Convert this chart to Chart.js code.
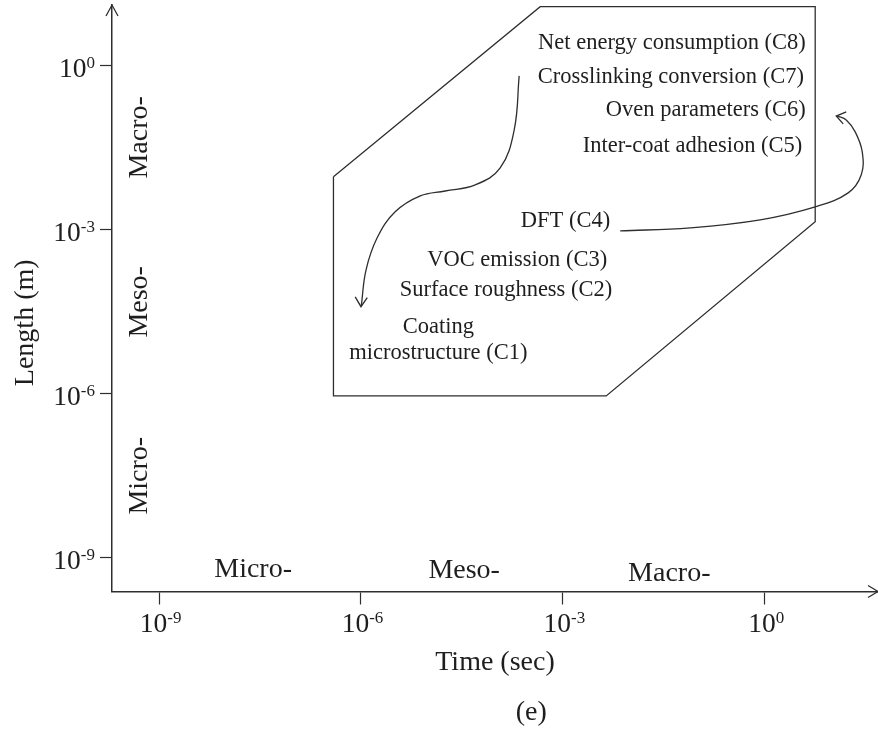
<!DOCTYPE html>
<html>
<head>
<meta charset="utf-8">
<script src="https://cdn.jsdelivr.net/npm/chart.js@4.4.1/dist/chart.umd.min.js"></script>
<style>
  html, body { margin: 0; padding: 0; background: #fff; }
</style>
</head>
<body>
<canvas id="scaleChart" width="878" height="732"></canvas>
<script>
// Axis ticks (powers of ten, both axes)
const TICK_EXPONENTS = [-9, -6, -3, 0];

// Scale regions along both axes
const REGIONS = ['Micro-', 'Meso-', 'Macro-'];

// Criteria written inside the outline
const CRITERIA = [
  'Net energy consumption (C8)',
  'Crosslinking conversion (C7)',
  'Oven parameters (C6)',
  'Inter-coat adhesion (C5)',
  'DFT (C4)',
  'VOC emission (C3)',
  'Surface roughness (C2)',
  ['Coating', 'microstructure (C1)']
];

// Outline of the time / length window (sec, m)
const BOX_TIME   = [3.9e-7, 4.6e-4, 5.6, 5.6, 4.4e-3, 3.9e-7, 3.9e-7];
const BOX_LENGTH = [9.3e-3, 12, 12, 1.4e-3, 9.1e-7, 9.1e-7, 9.3e-3];

// Link from C7 down to C1 (curve + arrow head)
const DOWN_TIME   = [2.24e-4, 1.89e-4, 1.17e-4, 4.98e-5, 1.78e-5, 7.6e-6, 3.22e-6, 1.74e-6, 1.19e-6, 1.01e-6];
const DOWN_LENGTH = [0.65, 0.067, 0.0135, 6.6e-3, 5.1e-3, 4.15e-3, 2.12e-3, 7.1e-4, 1.84e-4, 4.0e-5];
const DOWN_HEAD_TIME   = [8.2e-7, 1.0e-6, 1.24e-6];
const DOWN_HEAD_LENGTH = [5.9e-5, 3.9e-5, 5.7e-5];

// Link from C4 round to C6 (curve + arrow head)
const UP_TIME   = [7.1e-3, 0.078, 0.855, 5.6, 17.3, 27, 28, 22, 16.2, 11.9];
const UP_LENGTH = [9.5e-4, 1.08e-3, 1.51e-3, 2.61e-3, 4.71e-3, 0.01, 0.0265, 0.0615, 0.102, 0.12];
const UP_HEAD_TIME   = [16.2, 11.5, 14.6];
const UP_HEAD_LENGTH = [0.143, 0.12, 0.086];

// Axis limits
const X_MIN = 2.0e-10, X_MAX = 48;
const Y_MIN = 2.4e-10, Y_MAX = 12.9;

// Styling
const FONT = '"Liberation Serif", "Times New Roman", serif';
const TEXT_COLOR = '#1e1e1e';
const LINE_COLOR = '#2e2e2e';

// Where the texts sit, as [log10 time, log10 length]
const CRITERIA_AT = [
  { at: [0.608, 0.416], align: 'right' },
  { at: [0.581, -0.203], align: 'right' },
  { at: [0.608, -0.810], align: 'right' },
  { at: [0.556, -1.468], align: 'right' },
  { at: [-2.297, -2.839], align: 'right' },
  { at: [-2.342, -3.552], align: 'right' },
  { at: [-2.267, -4.100], align: 'right' },
  { at: [-4.85, -4.777], align: 'center' }
];
const REGION_X_AT = [[-7.602, -9.348], [-4.467, -9.366], [-1.420, -9.421]];
const REGION_Y_AT = [[-9.177, -7.501], [-9.177, -4.320], [-9.177, -1.312]];

function zip(xs, ys) {
  return xs.map((x, i) => ({ x: x, y: ys[i] }));
}

function lineSet(xs, ys, tension) {
  return {
    data: zip(xs, ys),
    showLine: true,
    borderColor: LINE_COLOR,
    borderWidth: 1.3,
    pointRadius: 0,
    tension: tension,
    borderJoinStyle: 'miter'
  };
}

function setTicks(scale) {
  scale.ticks = TICK_EXPONENTS.map(e => ({ value: Math.pow(10, e) }));
}

// "10" with a raised exponent; y is the baseline of the "10"
function drawPower(ctx, exponent, x, y, align) {
  const base = '10';
  const sup = String(exponent);
  ctx.font = '27.5px ' + FONT;
  const wb = ctx.measureText(base).width;
  ctx.font = '17px ' + FONT;
  const we = ctx.measureText(sup).width;
  const left = align === 'right' ? x - wb - we : x - (wb + we) / 2;
  ctx.textAlign = 'left';
  ctx.textBaseline = 'alphabetic';
  ctx.font = '27.5px ' + FONT;
  ctx.fillText(base, left, y);
  ctx.font = '17px ' + FONT;
  ctx.fillText(sup, left + wb, y - 9);
}

// Texts, tick labels and axis arrow heads
const annotations = {
  id: 'annotations',
  afterDraw(chart) {
    const { ctx, chartArea: area, scales: { x, y } } = chart;
    const px = e => x.getPixelForValue(Math.pow(10, e));
    const py = e => y.getPixelForValue(Math.pow(10, e));
    ctx.save();

    // arrow heads at the axis ends
    ctx.strokeStyle = LINE_COLOR;
    ctx.lineWidth = 1.3;
    ctx.beginPath();
    ctx.moveTo(area.left - 6, area.top + 11);
    ctx.lineTo(area.left, area.top);
    ctx.lineTo(area.left + 6, area.top + 11);
    ctx.moveTo(area.right - 10, area.bottom - 6);
    ctx.lineTo(area.right, area.bottom);
    ctx.lineTo(area.right - 10, area.bottom + 6);
    ctx.stroke();

    ctx.fillStyle = TEXT_COLOR;

    // tick labels from the scales' own ticks
    x.ticks.forEach(t => {
      const e = Math.round(Math.log10(t.value));
      drawPower(ctx, e, x.getPixelForValue(t.value) + 1.5, area.bottom + 40.5, 'center');
    });
    y.ticks.forEach(t => {
      const e = Math.round(Math.log10(t.value));
      drawPower(ctx, e, area.left - 17, y.getPixelForValue(t.value) + 11, 'right');
    });

    // criteria
    ctx.font = '22.5px ' + FONT;
    ctx.textBaseline = 'middle';
    CRITERIA.forEach((label, i) => {
      const pos = CRITERIA_AT[i];
      ctx.textAlign = pos.align;
      const lines = Array.isArray(label) ? label : [label];
      lines.forEach((line, j) => {
        ctx.fillText(line, px(pos.at[0]), py(pos.at[1]) + j * 26);
      });
    });

    // region names along the axes
    ctx.font = '28px ' + FONT;
    ctx.textAlign = 'center';
    ctx.textBaseline = 'alphabetic';
    REGIONS.forEach((name, i) => {
      ctx.fillText(name, px(REGION_X_AT[i][0]), py(REGION_X_AT[i][1]));
      ctx.save();
      ctx.translate(px(REGION_Y_AT[i][0]), py(REGION_Y_AT[i][1]));
      ctx.rotate(-Math.PI / 2);
      ctx.fillText(name, 0, 0);
      ctx.restore();
    });

    // y axis title (sits below the middle of the axis)
    ctx.save();
    ctx.translate(px(-10.871), py(-4.704));
    ctx.rotate(-Math.PI / 2);
    ctx.fillText('Length (m)', 0, 0);
    ctx.restore();

    // panel letter
    ctx.fillText('(e)', px(-3.471), py(-11.963));

    ctx.restore();
  }
};

const axisCommon = {
  type: 'logarithmic',
  bounds: 'data',
  afterBuildTicks: setTicks,
  border: { display: true, color: LINE_COLOR, width: 1.5 },
  grid: { drawOnChartArea: false, drawTicks: true, tickColor: LINE_COLOR, tickWidth: 1.2 },
  ticks: { display: false, autoSkip: false }
};

const ctx = document.getElementById('scaleChart').getContext('2d');
const chart = new Chart(ctx, {
  type: 'scatter',
  data: {
    datasets: [
      lineSet(BOX_TIME, BOX_LENGTH, 0),
      lineSet(DOWN_TIME, DOWN_LENGTH, 0.4),
      lineSet(DOWN_HEAD_TIME, DOWN_HEAD_LENGTH, 0),
      lineSet(UP_TIME, UP_LENGTH, 0.4),
      lineSet(UP_HEAD_TIME, UP_HEAD_LENGTH, 0)
    ]
  },
  options: {
    responsive: false,
    devicePixelRatio: 1,
    animation: false,
    layout: { padding: { top: 5, right: 0, bottom: 0, left: 0 } },
    plugins: {
      legend: { display: false },
      tooltip: { enabled: false }
    },
    scales: {
      x: Object.assign({}, axisCommon, {
        min: X_MIN,
        max: X_MAX,
        afterFit: s => {
          s.height = 140.5;
          s.paddingLeft = 0;
          s.paddingRight = 0;
        },
        grid: Object.assign({}, axisCommon.grid, { tickLength: 13 }),
        title: {
          display: true,
          text: 'Time (sec)',
          color: TEXT_COLOR,
          font: { family: FONT, size: 28 },
          padding: { top: 0, bottom: 53 }
        }
      }),
      y: Object.assign({}, axisCommon, {
        min: Y_MIN,
        max: Y_MAX,
        afterFit: s => {
          s.width = 112;
          s.paddingTop = 0;
          s.paddingBottom = 0;
        },
        grid: Object.assign({}, axisCommon.grid, { tickLength: 12 })
      })
    }
  },
  plugins: [annotations]
});
</script>
</body>
</html>
